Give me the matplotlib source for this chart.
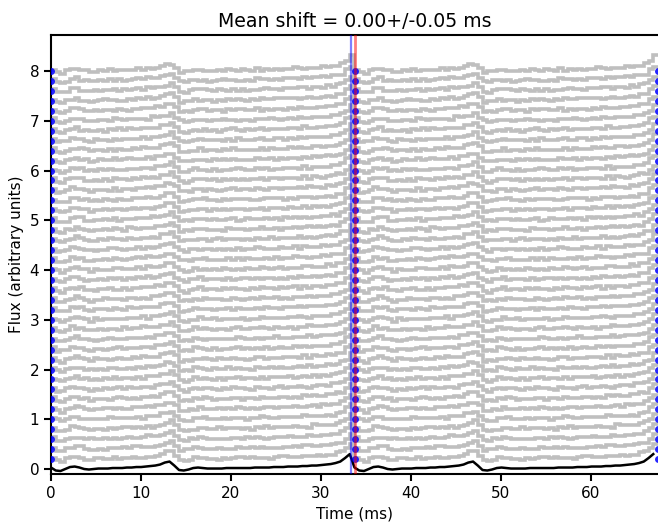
import numpy as np
import matplotlib
matplotlib.use("Agg")
import matplotlib.pyplot as plt

# ---------- data ----------
period = 33.74          # ms
nbins = 64
offset_step = 0.2
mean_peak = 33.30       # blue line
fit_peak = 0.05         # fitted phase of each profile (ms, modulo period)
title = "Mean shift = 0.00+/-0.05 ms"

# template (mean profile) over one period, at bin edges
template = [0.03, -0.03, -0.04, 0.00, 0.04, 0.05, 0.03, 0.00,
            -0.01, 0.00, 0.01, 0.01, 0.01, 0.02, 0.02, 0.02,
            0.03, 0.03, 0.04, 0.04, 0.05, 0.06, 0.07, 0.09,
            0.13, 0.15, 0.07, -0.02, -0.03, -0.01, 0.02, 0.03,
            0.02, 0.01, 0.01, 0.01, 0.01, 0.02, 0.02, 0.02,
            0.02, 0.02, 0.02, 0.03, 0.03, 0.03, 0.03, 0.04,
            0.04, 0.04, 0.05, 0.05, 0.05, 0.06, 0.06, 0.07,
            0.07, 0.08, 0.09, 0.10, 0.12, 0.15, 0.22, 0.30]

# per-profile residuals, one digit per bin, 4 = zero, step 0.013
residuals = [
    "45364342 35544634 45324345 65443354 44325346 54534324 55434443 52436544",
    "34453564 43325445 36544234 45436553 34454326 44535443 24354653 44345234",
    "53443245 64354434 53246544 35443625 54434354 36454234 45534264 35443545",
    "44536435 34425346 54435243 46554323 54463445 34253645 44354326 54434535",
    "36445324 54436544 34525436 44354253 64435344 52436543 45334654 43425364",
    "45243654 34465343 25446354 43534625 34454436 53424563 44354345 26443543",
    "54354426 35443564 34254436 54435342 65344354 24536443 54342645 43546344",
    "43465345 24354463 54344256 34453642 45435364 43254435 63445324 54364435",
    "35443526 44354635 43425446 35543462 44353546 34425364 45534436 24354453",
    "46354243 54436534 42546344 53435264 43544635 34254463 54345362 44534526",
    "44253645 36443454 25364435 44526343 54364453 42456344 35443625 43545364",
    "53645344 25434563 44354264 35445364 42534456 35443624 54364534 43254463",
    "34544635 42356443 54435264 43546353 24454436 53442546 34354462 45534344",
    "45436253 44534426 35464435 24435463 54344256 43546435 34425364 53443546",
    "36443545 26354434 45362544 35443526 44635344 52436454 34456325 44354436",
    "44526364 35443542 64354436 53424563 44354625 34453643 25446354 43534462",
    "53443654 24365443 45342654 43546342 65443354 24536445 34254463 54354426",
    "45354264 43546335 24454463 53442546 35436454 42536443 54462534 43545362",
    "34465432 54436452 43546335 44253646 34453524 65443453 42536445 34426354",
    "46344536 25443654 34526443 54364352 44536424 35446534 52434654 43625443",
    "54436253 44354642 35546434 42356443 54434625 36443545 24365434 45354263",
    "43546344 52436543 44625345 34453642 45354436 24465343 54362544 35443526",
    "35443654 42536443 54354426 35446534 42563445 34254463 54436352 44534625",
    "44362545 34453642 65344354 24536443 54342654 43546335 24454463 53442546",
    "53424563 44354625 34453643 25446354 43534462 36443545 26354434 45362544",
    "45534436 24354453 46354243 54436534 42546344 53435264 43544635 34254463",
    "34525436 44354253 36445324 54436544 64435344 45334654 52436543 43425364",
    "42456344 35443625 43545364 53645344 25434563 44354264 35445364 42534456",
    "54364453 44253645 25364435 36443454 44526343 43545364 35443625 42456344",
    "35445364 53645344 44354264 25434563 42534456 54364534 35443624 43254463",
    "24454436 34544635 54435264 42356443 43546353 34354462 53442546 45534344",
    "54344256 45436253 35464435 44534426 24435463 34425364 43546435 53443546",
    "44635344 36443545 45362544 26354434 35443526 34456325 52436454 44354436",
    "44354625 44526364 64354436 35443542 53424563 25446354 34453643 43534462",
    "65443354 53443654 45342654 24365443 43546342 34254463 24536445 54354426",
    "35436454 45354264 24454463 43546335 53442546 54462534 42536443 43545362",
    "34453524 34465432 43546335 54436452 44253646 42536445 65443453 34426354",
    "44536424 46344536 34526443 25443654 54364352 52434654 35446534 43625443",
    "54434625 54436253 35546434 44354642 42356443 24365434 36443545 45354263",
    "45354436 43546344 44625345 52436543 34453642 54362544 24465343 35443526",
]


def residual_values(s):
    d = [int(c) for c in s.replace(" ", "")][:nbins]
    d += [4] * (nbins - len(d))
    return (np.array(d, float) - 4) * 0.013


# ---------- plot ----------
plt.rcParams["font.size"] = 11
plt.rcParams["axes.linewidth"] = 1.5
plt.rcParams["xtick.major.width"] = 1.5
plt.rcParams["ytick.major.width"] = 1.5
plt.rcParams["xtick.major.size"] = 5
plt.rcParams["ytick.major.size"] = 5

fig = plt.figure(figsize=(6.58, 5.23), dpi=100)
ax = fig.add_axes([0.0775, 0.0937, 0.9225, 0.839])

tmpl = np.array(template)
w = period / nbins
edges = np.arange(2 * nbins + 1) * w
offsets = offset_step * (np.arange(len(residuals)) + 1)

for off, res in zip(offsets, residuals):
    prof = tmpl + residual_values(res)
    ax.stairs(np.tile(prof, 2) + off, edges, baseline=None,
              color="#bfbfbf", lw=2.6, zorder=1)

ax.plot(edges[:-1], np.tile(tmpl, 2), color="k", lw=1.8, zorder=2)

for n in range(3):
    ax.plot(np.full_like(offsets, fit_peak + n * period), offsets, "o",
            color="blue", ms=5, alpha=0.85, mec="none", zorder=3)

ax.axvline(mean_peak, color="blue", alpha=0.5, lw=1.6, zorder=4)
ax.axvline(fit_peak + period, color="red", alpha=0.5, lw=2.0, zorder=4)

ax.spines["right"].set_visible(False)
ax.set_xlim(0, 2 * period)
ax.set_ylim(-0.1, 8.72)
ax.set_xticks([0, 10, 20, 30, 40, 50, 60])
ax.set_yticks(range(9))
ax.set_xlabel("Time (ms)")
ax.set_ylabel("Flux (arbitrary units)")
ax.set_title(title, fontsize=13.6)

fig.savefig("out.png", dpi=100)
